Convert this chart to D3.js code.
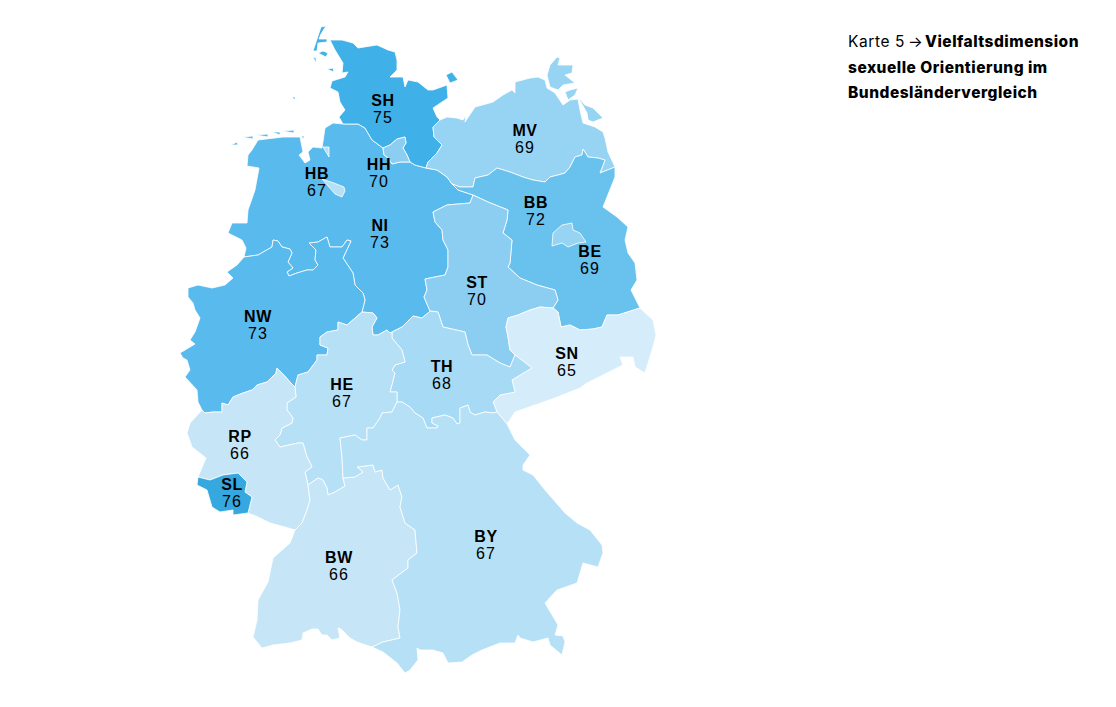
<!DOCTYPE html>
<html lang="de">
<head>
<meta charset="utf-8">
<title>Karte 5</title>
<script src="https://cdn.jsdelivr.net/npm/d3@7/dist/d3.min.js"></script>
<style>
html,body{margin:0;padding:0;background:#fff}
svg{display:block}
.code{font:700 16px "Liberation Sans",sans-serif;letter-spacing:.6px;fill:#000;text-anchor:middle}
.val{font:400 16px "Liberation Sans",sans-serif;letter-spacing:1px;fill:#000;text-anchor:middle}
.title{font:400 15.5px Inter,sans-serif;letter-spacing:.6px;fill:#000}
.title .b{font-weight:800;letter-spacing:.5px}
</style>
</head>
<body>
<svg id="map" width="1116" height="707"></svg>
<script>
// Categories and values
const codes  = ["NI","NW","SH","MV","BB","ST","SN","TH","HE","RP","BW","BY","SL","HH","BE","HB"];
const values = [73,73,75,69,72,70,65,68,67,66,66,67,76,70,69,67];
// Label anchors in map-grid units (same grid as the outline arcs)
const labelAnchors = [[280,214],[158,305],[283,89],[425,119],[436,191],[377,271],[467,342],[342,355],[242,373],[140,425],[239,546],[386,525],[132,473],[279,153],[490,240],[217,162]];
const titleLead = "Karte 5";
const titleArrow = "→";
const titleLines = ["Vielfaltsdimension","sexuelle Orientierung im","Bundesländervergleich"];

// Outline arcs in map-grid units, shared between neighbouring states
const coastSH=[[243,104],[239,97],[245,90],[240,82],[238,72],[230,68],[232,61],[245,57],[248,52],[242,53],[243,43],[235,30],[230,20],[242,20],[253,23],[258,28],[277,25],[288,30],[295,32],[297,40],[297,50],[290,57],[303,57],[305,67],[308,60],[318,62],[328,70],[333,70],[347,65],[348,78],[333,88],[337,97],[340,100]];
const shNi1=[[243,104],[258,104],[265,108],[272,120],[283,128]];
const hhSh=[[283,128],[290,125],[297,119],[305,117],[306,123],[303,128],[307,135],[310,142]];
const hhNi=[[283,128],[284,135],[288,138],[292,144],[300,142],[310,142]];
const shNi2=[[310,142],[315,145],[326,148]];
const shMv=[[340,100],[333,107],[334,117],[342,125],[337,133],[328,142],[326,148]];
const mvNi=[[326,148],[337,150],[347,157],[352,164]];
const coastMV=[[340,100],[347,97],[357,98],[363,100],[366,95],[365,102],[375,87],[393,82],[403,75],[412,70],[415,73],[415,62],[430,58],[438,57],[445,60],[447,68],[455,73],[463,85],[470,80],[478,79],[480,90],[483,103],[495,107],[503,112],[505,118],[508,132],[515,147]];
const mvBb=[[352,164],[360,167],[373,167],[375,158],[388,155],[397,148],[410,152],[423,157],[433,160],[445,162],[450,157],[458,155],[465,153],[470,147],[475,137],[482,135],[483,129],[488,137],[498,138],[505,140],[500,153],[515,147]];
const bbEast=[[515,147],[515,157],[503,187],[517,197],[528,207],[525,220],[528,233],[535,243],[537,260],[531,270],[540,288]];
const bbSn=[[453,288],[458,292],[461,307],[470,305],[480,310],[493,309],[502,307],[507,295],[518,295],[540,288]];
const bbSt=[[373,175],[388,182],[408,190],[407,200],[403,213],[412,220],[410,243],[408,247],[420,258],[437,265],[455,270],[458,280],[453,288]];
const bbNi=[[352,164],[358,170],[373,175]];
const coastNI=[[243,104],[233,103],[225,108],[222,128],[213,127],[208,132],[210,140],[205,143],[199,135],[203,132],[200,117],[183,117],[158,120],[152,130],[148,135],[147,146],[159,148],[155,170],[148,190],[147,203],[132,203],[128,213],[142,220],[146,228],[144,237]];
const niNw=[[144,237],[158,235],[172,227],[173,220],[178,221],[182,227],[190,229],[192,233],[188,242],[193,248],[187,252],[189,256],[197,253],[207,250],[213,250],[218,245],[215,240],[216,230],[209,223],[218,222],[227,217],[230,227],[242,227],[247,220],[251,221],[243,238],[253,253],[255,265],[263,273],[265,280],[262,292]];
const niHe=[[262,292],[273,293],[277,298],[272,307],[273,315],[278,315],[287,310],[290,313],[292,312]];
const niTh=[[292,312],[302,307],[313,296],[322,298],[328,293],[330,291]];
const niSt=[[330,291],[324,277],[327,270],[325,259],[345,255],[348,247],[348,230],[343,220],[342,210],[335,202],[333,192],[347,185],[370,183],[373,175]];
const stTh=[[330,291],[338,292],[343,307],[365,312],[368,325],[372,335],[387,335],[400,343],[410,347],[415,335]];
const stSn=[[453,288],[440,287],[430,290],[418,295],[408,298],[406,307],[408,317],[410,330],[415,335]];
const thSn=[[415,335],[432,348],[425,352],[412,360],[415,372],[400,375],[393,382],[397,392]];
const snBy=[[397,392],[407,404]];
const snEast=[[540,288],[553,300],[556,315],[553,327],[545,353],[535,347],[533,337],[520,337],[523,345],[507,353],[487,363],[480,368],[455,378],[435,385],[415,392],[407,404]];
const thBy=[[297,382],[302,382],[310,387],[315,393],[323,398],[327,408],[337,408],[338,406],[332,403],[332,398],[345,395],[353,398],[357,404],[360,403],[360,388],[368,385],[370,392],[375,395],[385,392],[393,393],[397,392]];
const thHe=[[292,312],[292,318],[302,330],[305,342],[295,345],[292,350],[295,353],[290,372],[297,372],[297,382]];
const heBy=[[297,382],[292,392],[282,393],[280,398],[273,408],[267,408],[267,420],[262,420],[255,415],[240,418],[242,437],[243,458]];
const byBw=[[243,458],[255,457],[263,452],[257,447],[273,445],[275,452],[282,450],[283,458],[290,470],[298,465],[302,477],[300,487],[305,503],[315,510],[317,533],[308,540],[308,548],[292,560],[297,573],[300,590],[298,607],[300,618],[283,622],[272,627]];
const heBw=[[243,458],[245,466],[235,472],[228,475],[227,468],[223,460],[218,458],[208,465]];
const heRp=[[195,367],[196,377],[187,383],[187,390],[193,398],[192,403],[182,408],[180,415],[175,420],[180,427],[198,423],[203,423],[207,437],[212,447],[205,452],[208,465]];
const heNw=[[262,292],[247,305],[238,302],[238,310],[227,312],[220,317],[220,325],[228,328],[227,335],[217,335],[217,340],[208,352],[198,355],[195,367]];
const coastNW=[[144,237],[137,245],[127,252],[133,258],[125,265],[112,268],[98,265],[88,268],[88,277],[93,283],[95,290],[100,298],[95,312],[90,320],[95,324],[80,333],[83,338],[87,340],[90,350],[85,357],[97,370],[98,382],[102,390]];
const nwRp=[[195,367],[190,362],[182,353],[177,348],[176,353],[167,362],[157,365],[152,370],[143,373],[133,377],[128,385],[122,383],[122,392],[113,392],[105,393],[102,390]];
const coastRP=[[102,390],[90,403],[87,413],[92,427],[106,438],[98,457]];
const rpSl=[[98,457],[110,460],[123,455],[138,453],[147,462],[145,472],[152,477],[148,493]];
const frSl=[[98,457],[97,465],[107,470],[112,487],[120,492],[133,490],[133,495],[148,493]];
const frRp=[[148,493],[158,497],[170,503],[185,507],[195,510]];
const rpBw=[[208,465],[210,480],[207,490],[202,503],[195,510]];
const southBW=[[195,510],[190,523],[173,538],[168,562],[158,580],[157,600],[153,617],[162,628],[173,625],[190,623],[202,620],[203,613],[212,609],[218,609],[222,615],[227,615],[232,620],[240,618],[238,608],[241,609],[250,618],[257,622],[272,627]];
const southBY=[[272,627],[283,632],[297,643],[305,653],[310,650],[318,640],[317,628],[320,630],[333,630],[343,633],[348,643],[362,642],[372,635],[382,630],[400,623],[415,623],[418,615],[420,618],[433,622],[448,618],[450,625],[462,635],[465,622],[463,616],[455,615],[458,605],[445,583],[457,570],[477,563],[483,543],[498,547],[503,533],[502,525],[490,510],[477,503],[465,493],[445,470],[433,455],[423,450],[423,445],[430,435],[415,420],[410,410],[407,404]];
// Separate rings: city states and islands
const ringBE=[[462,205],[472,203],[473,210],[480,213],[486,222],[478,223],[468,227],[462,223],[452,226],[453,213],[457,208]];
const ringBremen=[[222,159],[234,163],[244,167],[245,171],[242,177],[235,174],[230,170]];
const ringBremerhaven=[[223,127],[229,127],[229,137],[225,137]];
const ringRuegen=[[447,55],[450,45],[457,37],[460,38],[458,45],[473,45],[472,53],[465,55],[475,63],[463,65],[458,70],[450,67],[450,60]];
const ringMoenchgut=[[465,72],[470,70],[478,68],[475,75],[468,80],[463,78]];
const ringUsedom=[[478,77],[485,85],[493,88],[503,98],[493,102],[488,100],[487,93],[480,85]];
const ringFehmarn=[[346,55],[352,52],[358,60],[350,63],[348,58]];
const ringSylt=[[221,7],[226,6],[221,14],[219,19],[227,19],[227,22],[218,23],[217,31],[213,31],[215,18]];
const ringFoehr=[[218,33],[223,31],[228,33],[226,37],[220,37]];
const ringAmrum=[[213,37],[216,38],[216,43],[213,42]];
const ringPellworm=[[227,49],[233,48],[234,52],[230,53]];
const ringHelgoland=[[192,77],[195,77],[195,80],[192,80]];
const eastFrisian=[
  [[131,125],[137,122],[138,125],[132,128]],
  [[142,117],[153,116],[153,119],[142,120]],
  [[156,115],[168,114],[168,117],[156,118]],
  [[172,112],[180,112],[180,115],[172,115]],
  [[182,111],[194,110],[194,113],[182,114]],
  [[201,116],[204,116],[204,119],[201,119]]
];

const rev = a => a.slice().reverse();
const ring = (...arcs) => arcs.flat();
const rings = {
  NI:[ring(coastNI,niNw,niHe,niTh,niSt,rev(bbNi),rev(mvNi),rev(shNi2),rev(hhNi),rev(shNi1)),...eastFrisian],
  NW:[ring(coastNW,rev(nwRp),rev(heNw),rev(niNw))],
  SH:[ring(coastSH,shMv,rev(shNi2),rev(hhSh),rev(shNi1)),ringFehmarn,ringSylt,ringFoehr,ringAmrum,ringPellworm,ringHelgoland],
  MV:[ring(coastMV,rev(mvBb),rev(mvNi),rev(shMv)),ringRuegen,ringMoenchgut,ringUsedom],
  BB:[ring(mvBb,bbEast,rev(bbSn),rev(bbSt),rev(bbNi))],
  ST:[ring(bbSt,stSn,rev(stTh),niSt)],
  SN:[ring(bbSn,snEast,rev(snBy),rev(thSn),rev(stSn))],
  TH:[ring(stTh,thSn,rev(thBy),rev(thHe),niTh)],
  HE:[ring(niHe,thHe,heBy,heBw,rev(heRp),rev(heNw))],
  RP:[ring(nwRp,coastRP,rpSl,frRp,rev(rpBw),rev(heRp))],
  BW:[ring(byBw,rev(southBW),rev(rpBw),rev(heBw))],
  BY:[ring(thBy,snBy,rev(southBY),rev(byBw),rev(heBy))],
  SL:[ring(rpSl,rev(frSl))],
  HH:[ring(hhSh,rev(hhNi))],
  BE:[ringBE],
  HB:[ringBremen,ringBremerhaven]
};

const states = codes.map((code,i)=>({
  type:"Feature",
  properties:{code,value:values[i],anchor:labelAnchors[i]},
  geometry:{type:"MultiPolygon",coordinates:rings[code].map(r=>[r])}
}));

const projection = d3.geoIdentity().translate([100,20]);
const path = d3.geoPath(projection);
const color = d3.scaleLinear()
  .domain([65,66,67,68,69,70,72,73,75,76])
  .range(["#d5ecfa","#c6e6f8","#b6e0f6","#a6daf5","#97d4f3","#8ccef2","#69c2ee","#59baed","#3fb0e8","#35a8e0"]);

const svg = d3.select("#map");
svg.append("g").selectAll("path").data(states).join("path")
  .attr("d",path)
  .attr("fill",d=>color(d.properties.value))
  .attr("stroke","#fff")
  .attr("stroke-width",0.8)
  .attr("stroke-linejoin","round");

const labels = svg.append("g").selectAll("g").data(states).join("g")
  .attr("transform",d=>`translate(${projection(d.properties.anchor)})`);
labels.append("text").attr("class","code").attr("y",-3).text(d=>d.properties.code);
labels.append("text").attr("class","val").attr("y",14).text(d=>d.properties.value);

const title = svg.append("g").attr("transform","translate(848,47)");
titleLines.forEach((line,i)=>{
  const t = title.append("text").attr("class","title").attr("y",i*25.5);
  if(i===0){
    t.append("tspan").text(titleLead);
    t.append("tspan").attr("x",60).text(titleArrow);
  }
  t.append("tspan").attr("class","b").attr("x",i===0?77:0).text(line);
});
</script>
</body>
</html>
